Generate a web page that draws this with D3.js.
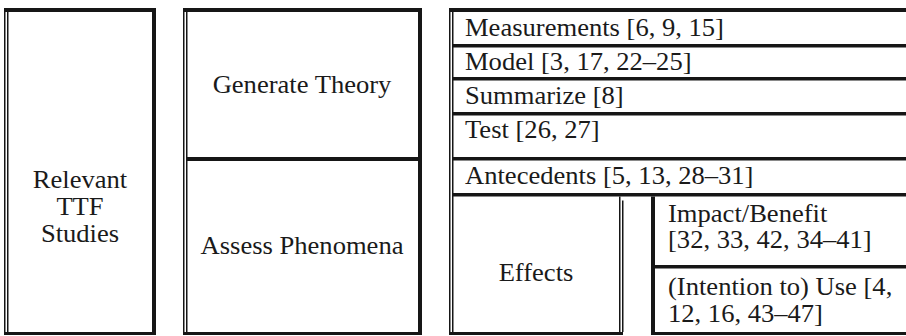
<!DOCTYPE html>
<html>
<head>
<meta charset="utf-8">
<script src="https://cdn.jsdelivr.net/npm/d3@7"></script>
</head>
<body style="margin:0">
<div id="chart"></div>
<script>
// ---- content ----
const rootLabel = ["Relevant", "TTF", "Studies"];
const purposes = ["Generate Theory", "Assess Phenomena"];
const theoryItems = ["Measurements [6, 9, 15]", "Model [3, 17, 22\u201325]", "Summarize [8]", "Test [26, 27]"];
const phenomenaItems = ["Antecedents [5, 13, 28\u201331]"];
const effectsLabel = "Effects";
const effectsItems = [["Impact/Benefit", "[32, 33, 42, 34\u201341]"], ["(Intention to) Use [4,", "12, 16, 43\u201347]"]];

// ---- layout ----
const W = 906, H = 336;
const ink = "#161616";
const fs = 24.5;
const sx = 1.085;
const fam = "Times New Roman";
const svg = d3.select("#chart").append("svg").attr("width", W).attr("height", H)
  .style("font-family", `"${fam}"`);

const yTop = 8, yBot = 335;
const rowEdges = [8, 44, 77, 112, 157, 193, 335];   // horizontal borders of column 3
const midEdge = 157;                                 // divider in column 2
const subEdge = 265;                                 // divider between effects items

function hline(x0, x1, y, t) { svg.append("rect").attr("x", x0).attr("y", y).attr("width", x1 - x0).attr("height", t).attr("fill", ink); }
function vline(x, y0, y1, t) { svg.append("rect").attr("x", x).attr("y", y0).attr("width", t).attr("height", y1 - y0).attr("fill", ink); }
function dbl(x, y0, y1) { vline(x, y0, y1, 1.5); vline(x + 3, y0 + 4, y1 - 3, 1.5); }

// column boxes
const boxes = [{x0: 4, x1: 156}, {x0: 183, x1: 422}, {x0: 449, x1: 920}];
boxes.forEach((b, i) => {
  dbl(b.x0, yTop, yBot);
  hline(b.x0, b.x1, yTop, 4);
  if (i < 2) hline(b.x0, b.x1, yBot - 3, 3);
  vline(b.x1 - 4, yTop, yBot, 4);
});
// bottom of column 3 (the narrow spacer cell has none)
hline(449, 623, yBot - 3, 3);
hline(651, W, yBot - 3, 3);

// column 2 divider
hline(187, 420, midEdge, 4);

// column 3 rows
rowEdges.slice(1, -1).forEach(y => hline(452, W, y, 3.5));

// effects row
const effTop = rowEdges[5] + 3.5;
dbl(619, effTop, yBot);
vline(651, effTop, yBot, 4);
hline(651, W, subEdge, 3.5);

const T = (x, y, s, anchor) => svg.append("text")
  .attr("transform", `translate(${x},${y}) scale(${sx},1)`)
  .attr("text-anchor", anchor)
  .attr("font-size", fs)
  .attr("fill", "#1a1a1a")
  .style("font-family", `"${fam}"`)
  .text(s);

// root label (baselines)
const rootY = d3.scaleLinear().domain([0, rootLabel.length - 1]).range([188, 242]);
rootLabel.forEach((s, i) => T(80, rootY(i), s, "middle"));

// purposes
const purposeY = [93, 254];
purposes.forEach((s, i) => T(302, purposeY[i], s, "middle"));

// items
const itemY = [36, 70, 104, 138];
theoryItems.forEach((s, i) => T(465, itemY[i], s, "start"));
phenomenaItems.forEach(s => T(465, 184, s, "start"));
T(536, 281, effectsLabel, "middle");
const effY = [[222, 248], [295, 322]];
effectsItems.forEach((lines, i) => lines.forEach((s, j) => T(668, effY[i][j], s, "start")));
</script>
</body>
</html>
